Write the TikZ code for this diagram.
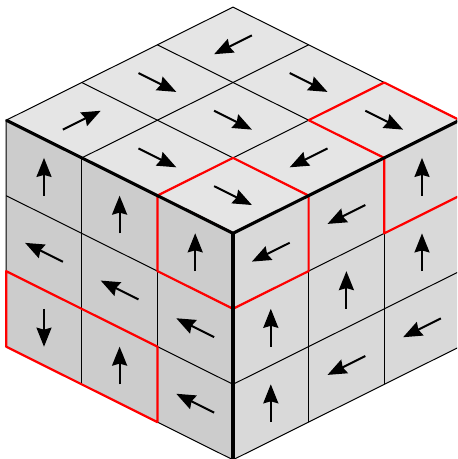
\documentclass[tikz,border=0pt]{standalone}
\usetikzlibrary{arrows.meta}

\begin{document}
\begin{tikzpicture}[
  % Estilos de caras
  topface/.style={shift={(front)}, x={(1.512cm,0.754cm)}, y={(-1.512cm,0.754cm)}},
  leftface/.style={shift={(front)}, x={(-1.512cm,0.754cm)}, y={(0cm,1.51cm)}},
  rightface/.style={shift={(front)}, x={(1.512cm,0.754cm)}, y={(0cm,1.51cm)}},
  % Estilos de lineas
  cellline/.style={draw=black, line width=0.02cm},
  redline/.style={draw=red, line width=0.044cm, line join=round},
  cubeedge/.style={draw=black, line width=0.062cm},
  spin/.style={draw=black, line width=0.04cm, -{Stealth[length=0.38cm, width=0.3cm, inset=0.04cm]}}
]

  \clip (0,0) rectangle (9.14,9.18);
  \coordinate (front) at (4.66,4.514);

  % ==========================================
  % TOP FACE
  % ==========================================
  \begin{scope}[topface]
    \filldraw[cellline, fill=black!10] (0,0) -- (3,0) -- (3,3) -- (0,3) -- cycle;
    \foreach \k in {1,2} {
      \draw[cellline] (\k,0) -- (\k,3);
      \draw[cellline] (0,\k) -- (3,\k);
    }
    \foreach \i/\j/\dx/\dy in {0/0/0/-1, 1/0/-1/0, 2/0/0/-1,
                               0/1/0/-1, 1/1/0/-1, 2/1/0/-1,
                               0/2/1/0,  1/2/0/-1, 2/2/-1/0} {
      \draw[spin] (\i+0.5-0.25*\dx,\j+0.5-0.25*\dy) -- (\i+0.5+0.25*\dx,\j+0.5+0.25*\dy);
    }
    \draw[redline] (0,0) -- (0,1) -- (1,1) -- (1,0);
    \draw[redline] (2,0) -- (2,1) -- (3,1) -- (3,0);
  \end{scope}

  % ==========================================
  % LEFT FACE
  % ==========================================
  \begin{scope}[leftface]
    \filldraw[cellline, fill=black!20] (0,0) -- (3,0) -- (3,-3) -- (0,-3) -- cycle;
    \foreach \k in {1,2} {
      \draw[cellline] (\k,0) -- (\k,-3);
      \draw[cellline] (0,-\k) -- (3,-\k);
    }
    \foreach \i/\j/\dx/\dy in {2/0/0/1, 2/1/1/0, 2/2/0/-1,
                               1/0/0/1, 1/1/1/0, 1/2/0/1,
                               0/0/0/1, 0/1/1/0, 0/2/1/0} {
      \draw[spin] (\i+0.5-0.25*\dx,-\j-0.5-0.25*\dy) -- (\i+0.5+0.25*\dx,-\j-0.5+0.25*\dy);
    }
    \draw[redline] (1,0) -- (1,-1) -- (0,-1);
    \draw[redline] (1,-3) -- (3,-3) -- (3,-2) -- (1,-2) -- cycle;
  \end{scope}

  % ==========================================
  % RIGHT FACE
  % ==========================================
  \begin{scope}[rightface]
    \filldraw[cellline, fill=black!15] (0,0) -- (3,0) -- (3,-3) -- (0,-3) -- cycle;
    \foreach \k in {1,2} {
      \draw[cellline] (\k,0) -- (\k,-3);
      \draw[cellline] (0,-\k) -- (3,-\k);
    }
    \foreach \i/\j/\dx/\dy in {0/0/-1/0, 0/1/0/1, 0/2/0/1,
                               1/0/-1/0, 1/1/0/1, 1/2/-1/0,
                               2/0/0/1,  2/1/0/1, 2/2/-1/0} {
      \draw[spin] (\i+0.5-0.25*\dx,-\j-0.5-0.25*\dy) -- (\i+0.5+0.25*\dx,-\j-0.5+0.25*\dy);
    }
    \draw[redline] (1,0) -- (1,-1) -- (0,-1);
    \draw[redline] (2,0) -- (2,-1) -- (3,-1);
  \end{scope}

  % Aristas frontales
  \begin{scope}[topface]
    \draw[cubeedge] (3,0) -- (0,0) -- (0,3);
  \end{scope}
  \begin{scope}[leftface]
    \draw[cubeedge] (0,0) -- (0,-3);
  \end{scope}

\end{tikzpicture}
\end{document}
